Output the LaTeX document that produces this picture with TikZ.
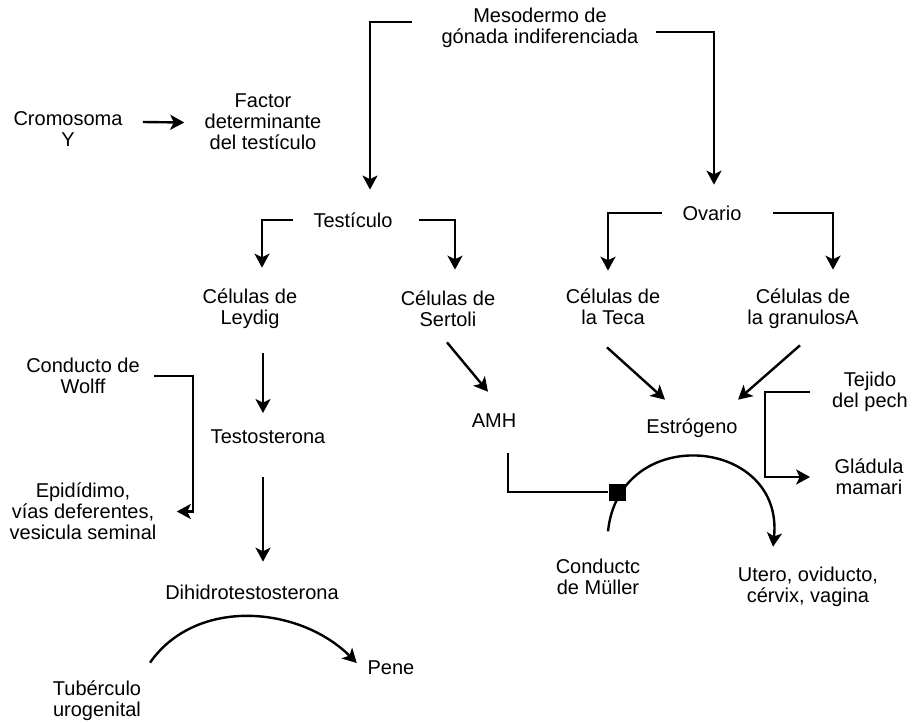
\documentclass[tikz,border=0pt]{standalone}
\usepackage{fontspec}
\setmainfont{Liberation Sans}
\usetikzlibrary{arrows.meta, positioning, calc}

\begin{document}
\begin{tikzpicture}[
    x=0.5pt, y=-0.5pt,
    >={Stealth[length=7pt, width=7.5pt, inset=1.8pt]},
    txt/.style={
        font=\fontsize{10}{10.5}\selectfont,
        align=center,
        inner sep=0pt,
    },
    flow/.style={->, line width=1.2pt},
    bar/.style={line width=1.2pt},
]
\useasboundingbox (0,0) rectangle (912,723);

% --- Top: gonad and the testis factor ---
\node[txt] (meso) at (540,28) {Mesodermo de\\gónada indiferenciada};
\node[txt] (cromo) at (68,129) {Cromosoma\\Y};
\node[txt] (factor) at (263,121.5) {Factor\\determinante\\del testículo};

\node[txt] (testic) at (353,220) {Testículo};
\node[txt] (ovario) at (712,213) {Ovario};

% --- Cell types ---
\node[txt] (leydig) at (250,309) {Células de\\Leydig};
\node[txt] (sertoli) at (448,309) {Células de\\Sertoli};
\node[txt] (teca) at (613,307) {Células de\\la Teca};
\node[txt] (granu) at (803,309) {Células de\\la granulosA};

% --- Male side ---
\node[txt] (wolff) at (83,376) {Conducto de\\Wolff};
\node[txt] (testo) at (268,437) {Testosterona};
\node[txt] (epid) at (83,511.5) {Epidídimo,\\vías deferentes,\\vesicula seminal};
\node[txt] (dht) at (252,592) {Dihidrotestosterona};
\node[txt] (tuber) at (97,701) {Tubérculo\\urogenital};
\node[txt] (pene) at (391,668) {Pene};

% --- Female side ---
\node[txt] (amh) at (494,421) {AMH};
\node[txt] (estro) at (692,428.5) {Estrógeno};
\node[txt] (muller) at (598,577) {Conductc\\de Müller};
\node[txt] (utero) at (808,587) {Utero, oviducto,\\cérvix, vagina};
\node[txt] (tejido) at (870,392) {Tejido\\del pech};
\node[txt] (glad) at (869,477) {Gládula\\mamari};

% Arrows from the gonad
\draw[flow] ([shift={(-14.5pt,3pt)}]meso.west) -| ([shift={(8.5pt,11.3pt)}]testic.north);
\draw[flow] ([shift={(8.5pt,-2pt)}]meso.east) -| ([shift={(1pt,10.3pt)}]ovario.north);
\draw[flow] ([shift={(10pt,3.5pt)}]cromo.east) -- ([shift={(-10pt,-0.5pt)}]factor.west);

% Testis and ovary split
\draw[flow] ([xshift=-10pt]testic.west) -| ([shift={(6pt,10.5pt)}]leydig.north);
\draw[flow] ([xshift=13pt]testic.east) -| ([shift={(3.5pt,10.5pt)}]sertoli.north);
\draw[flow] ([xshift=-10pt]ovario.west) -| ([shift={(-2.5pt,9pt)}]teca.north);
\draw[flow] ([xshift=15.5pt]ovario.east) -| ([shift={(15pt,9.5pt)}]granu.north);

% Male chain
\draw[flow] ([shift={(6.5pt,-12pt)}]leydig.south) -- ([shift={(-2.5pt,8.3pt)}]testo.north);
\draw[flow] ([shift={(-2.5pt,-16.4pt)}]testo.south) -- ([shift={(5.5pt,11.3pt)}]dht.north);
\draw[flow] ([xshift=7pt]wolff.east) -| ([xshift=18pt]epid.east) -- ([xshift=10pt]epid.east);
\draw[flow] ([shift={(4.25pt,9pt)}]tuber.north east)
    to[out=55, in=135] ([shift={(-5.25pt,2.5pt)}]pene.west);

% Female chain
\draw[flow] ([shift={(-0.5pt,-7.5pt)}]sertoli.south) -- ([shift={(-3pt,11pt)}]amh.north);
\draw[flow] ([shift={(-3pt,-11pt)}]teca.south) -- ([shift={(-13.5pt,9.5pt)}]estro.north);
\draw[flow] ([shift={(-1.5pt,-8pt)}]granu.south) -- ([shift={(23pt,9.5pt)}]estro.north);
\draw[flow] ([shift={(5pt,13.7pt)}]muller.north)
    to[out=84, in=84, looseness=1.7] ([shift={(-17.5pt,10pt)}]utero.north);
\node[fill=black, inner sep=0pt, minimum size=8.5pt] (sq) at (617,492) {};
\draw[bar] ([shift={(7pt,-12.5pt)}]amh.south) |- (sq.west);
\draw[flow] ([xshift=-11pt]tejido.west) -- ++(-22.5pt,0) |- ([xshift=-12pt]glad.west);

\end{tikzpicture}
\end{document}
